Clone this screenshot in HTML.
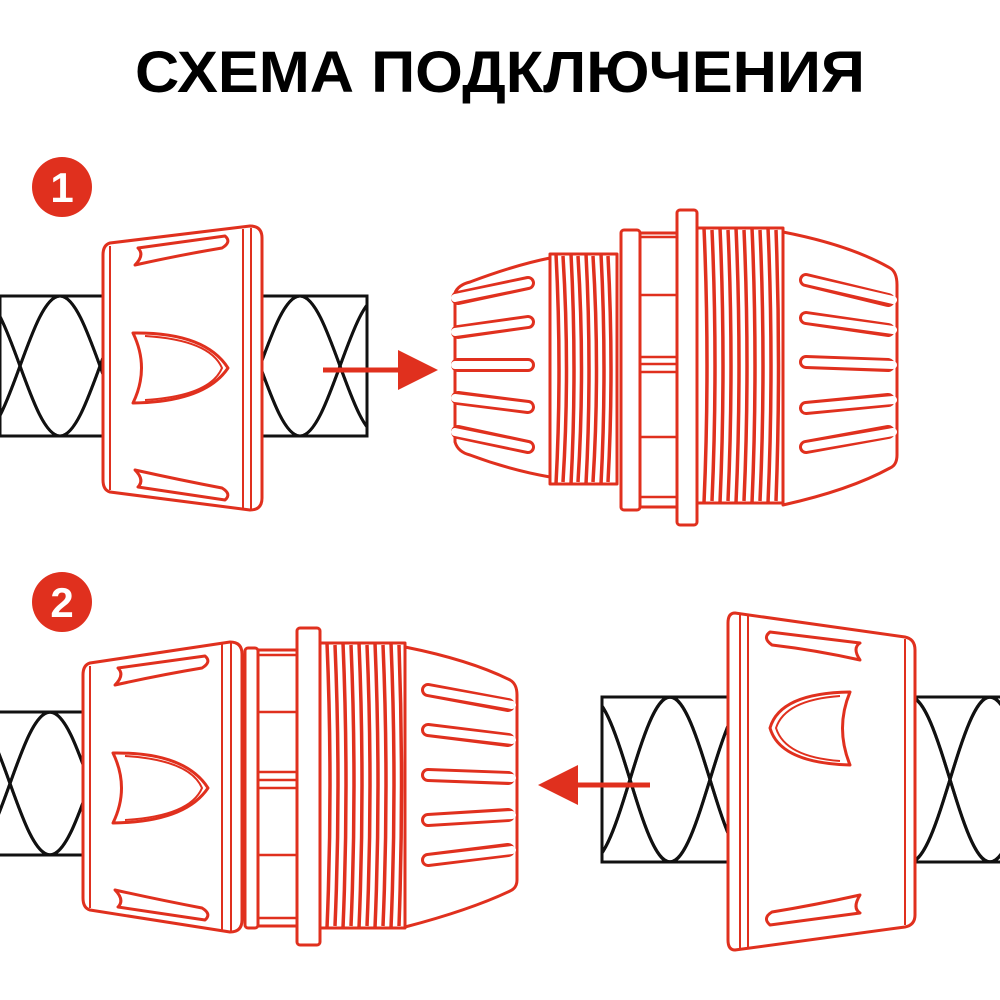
<!DOCTYPE html>
<html><head><meta charset="utf-8"><style>
html,body{margin:0;padding:0;background:#fff}
svg{display:block}
</style></head><body>
<svg width="1000" height="1000" viewBox="0 0 1000 1000" xmlns="http://www.w3.org/2000/svg">
<defs>
<path id="w" fill="none" stroke="#111" stroke-width="3" d="M-160,0 C-131,0 -109,140 -80,140 S-29,0 0,0 S51,140 80,140 S131,0 160,0 S211,140 240,140 S291,0 320,0 S371,140 400,140 S451,0 480,0 S531,140 560,140 S611,0 640,0"/>
<clipPath id="h1"><rect x="0" y="296" width="367" height="140"/></clipPath>
<clipPath id="h2"><rect x="0" y="712" width="85" height="143"/></clipPath>
<clipPath id="h3"><rect x="602" y="697" width="398" height="165"/></clipPath>
</defs>

<text x="500" y="92" text-anchor="middle" font-family="Liberation Sans, sans-serif" font-weight="bold" font-size="58" textLength="730" lengthAdjust="spacingAndGlyphs" fill="#000">СХЕМА ПОДКЛЮЧЕНИЯ</text>

<circle cx="62" cy="187" r="30" fill="#e0301e"/>
<text x="62" y="202" text-anchor="middle" font-family="Liberation Sans, sans-serif" font-weight="bold" font-size="42" fill="#fff">1</text>
<circle cx="62" cy="602" r="30" fill="#e0301e"/>
<text x="62" y="617" text-anchor="middle" font-family="Liberation Sans, sans-serif" font-weight="bold" font-size="42" fill="#fff">2</text>

<!-- hose 1 -->
<g clip-path="url(#h1)">
<use href="#w" transform="translate(-20,296)"/>
<use href="#w" transform="translate(-20,436) scale(1,-1)"/>
<use href="#w" transform="translate(60,296)"/>
<use href="#w" transform="translate(60,436) scale(1,-1)"/>
</g>
<rect x="0" y="296" width="367" height="140" fill="none" stroke="#111" stroke-width="3"/>

<!-- hose 2 left -->
<g clip-path="url(#h2)">
<use href="#w" transform="translate(-30,712) scale(1,1.02)"/>
<use href="#w" transform="translate(-30,855) scale(1,-1.02)"/>
<use href="#w" transform="translate(50,712) scale(1,1.02)"/>
<use href="#w" transform="translate(50,855) scale(1,-1.02)"/>
</g>
<rect x="-2" y="712" width="87" height="143" fill="none" stroke="#111" stroke-width="3"/>

<!-- hose 2 right -->
<g clip-path="url(#h3)">
<use href="#w" transform="translate(590,697) scale(1,1.18)"/>
<use href="#w" transform="translate(590,862) scale(1,-1.18)"/>
<use href="#w" transform="translate(670,697) scale(1,1.18)"/>
<use href="#w" transform="translate(670,862) scale(1,-1.18)"/>
</g>
<rect x="602" y="697" width="400" height="165" fill="none" stroke="#111" stroke-width="3"/>

<g stroke="#e0301e" stroke-width="3" fill="#fff" stroke-linejoin="round">
<!-- nut 1 -->
<path d="M110,243 L250,226 Q262,226 262,238 L262,498 Q262,510 250,510 L110,492 Q103,490 103,480 L103,255 Q103,245 110,243 Z"/>
<path d="M110,246 L110,490 M243,229 L243,508 M251,228 L251,509" fill="none" stroke-width="2"/>
<path d="M133,333 Q205,332 228,368 Q205,402 133,403 Q150,368 133,333 Z"/>
<path d="M145,336 Q210,340 222,368 Q210,396 145,400" fill="none" stroke-width="2"/>
<path d="M135,265 Q145,255 138,248 L225,236 Q232,242 222,248 Q180,255 135,265 Z"/>
<path d="M135,470 Q145,480 138,487 L225,500 Q232,494 222,488 Q180,480 135,470 Z"/>
</g>

<!-- arrow 1 -->
<line x1="323" y1="370" x2="405" y2="370" stroke="#e0301e" stroke-width="5"/>
<polygon points="398,350 438,370 398,390" fill="#e0301e"/>

<!-- connector 1 -->
<g stroke="#e0301e" stroke-width="3" fill="#fff" stroke-linejoin="round">
<path d="M455,293 Q458,285 470,282 Q515,265 550,258 L550,477 Q510,470 470,455 Q458,452 455,442 Z"/>
<path d="M783,232 Q850,245 890,268 Q897,272 897,285 L897,455 Q897,465 890,468 Q850,490 783,505 Z"/>
<rect x="550" y="254" width="67" height="230"/>
<rect x="640" y="233" width="37" height="274"/>
<path d="M640,237 H677 M640,295 H677 M640,357 H677 M640,364 H677 M640,372 H677 M640,437 H677 M640,497 H677" fill="none" stroke-width="2.5"/>
<rect x="621" y="230" width="19" height="280" rx="3"/>
<rect x="677" y="210" width="20" height="315" rx="3"/>
<rect x="697" y="228" width="86" height="275"/>
<g fill="none" stroke-width="3.5">
<path d="M556,254 Q562,370 556,484 M563,256 Q570,370 563,482 M571,254 Q577,370 571,484 M578,256 Q585,370 578,482 M586,254 Q592,370 586,484 M593,256 Q600,370 593,482 M601,254 Q607,370 601,484 M608,256 Q614,370 608,482"/>
<path d="M704,228 Q710,365 704,503 M712,230 Q718,365 712,501 M720,228 Q726,365 720,503 M728,230 Q734,365 728,501 M736,228 Q742,365 736,503 M744,230 Q750,365 744,501 M752,228 Q758,365 752,503 M760,230 Q766,365 760,501 M768,228 Q774,365 768,503 M776,230 Q781,365 776,501"/>
</g>
</g>
<!-- ribs conn1 -->
<g stroke-linecap="round" fill="none">
<g stroke="#e0301e" stroke-width="14">
<path d="M458,298 L528,283 M458,332 L528,322 M458,365 L528,365 M458,398 L528,407 M458,432 L528,447"/>
<path d="M806,280 L888,300 M806,318 L888,330 M806,362 L888,365 M806,408 L888,400 M806,447 L888,432"/>
</g>
<g stroke="#fff" stroke-width="8">
<path d="M455,298 L528,283 M455,332 L528,322 M455,365 L528,365 M455,398 L528,407 M455,432 L528,447"/>
<path d="M806,280 L893,300 M806,318 L893,330 M806,362 L893,365 M806,408 L893,400 M806,447 L893,432"/>
</g>
</g>

<!-- connector 2 -->
<g stroke="#e0301e" stroke-width="3" fill="#fff" stroke-linejoin="round">
<path d="M405,647 Q470,660 510,680 Q517,684 517,695 L517,880 Q517,888 510,891 Q470,910 405,927 Z"/>
<rect x="320" y="643" width="85" height="285"/>
<rect x="258" y="650" width="39" height="276"/>
<path d="M258,655 H297 M258,712 H297 M258,772 H297 M258,780 H297 M258,788 H297 M258,855 H297 M258,918 H297" fill="none" stroke-width="2.5"/>
<rect x="245" y="648" width="13" height="280" rx="3"/>
<rect x="297" y="628" width="23" height="317" rx="3"/>
<path d="M90,663 L230,642 Q242,642 242,654 L242,920 Q242,932 230,932 L90,910 Q83,908 83,898 L83,675 Q83,665 90,663 Z"/>
<path d="M90,666 L90,908 M222,644 L222,930 M231,643 L231,931" fill="none" stroke-width="2"/>
<path d="M113,753 Q185,752 208,788 Q185,822 113,823 Q130,788 113,753 Z"/>
<path d="M125,756 Q190,760 202,788 Q190,816 125,820" fill="none" stroke-width="2"/>
<path d="M115,685 Q125,675 118,668 L205,656 Q212,662 202,668 Q160,675 115,685 Z"/>
<path d="M115,890 Q125,900 118,907 L205,920 Q212,914 202,908 Q160,900 115,890 Z"/>
<g fill="none" stroke-width="3.5">
<path d="M327,643 Q333,785 327,928 M335,645 Q341,785 335,926 M343,643 Q349,785 343,928 M351,645 Q357,785 351,926 M359,643 Q365,785 359,928 M367,645 Q373,785 367,926 M375,643 Q381,785 375,928 M383,645 Q389,785 383,926 M391,643 Q397,785 391,928 M399,645 Q404,785 399,926"/>
</g>
<!-- nut 2 right -->
<path d="M735,613 L905,637 Q915,639 915,650 L915,915 Q915,925 905,927 L735,950 Q728,950 728,940 L728,623 Q728,613 735,613 Z"/>
<path d="M740,615 L740,948 M748,616 L748,947 M905,639 L905,925" fill="none" stroke-width="2"/>
<path d="M850,692 Q780,693 770,728 Q780,763 850,765 Q835,728 850,692 Z"/>
<path d="M840,696 Q785,700 776,728 Q785,757 840,761" fill="none" stroke-width="2"/>
<path d="M860,660 Q852,648 860,643 L770,632 Q762,638 772,645 Q815,650 860,660 Z"/>
<path d="M860,895 Q852,908 860,913 L770,925 Q762,918 772,912 Q815,905 860,895 Z"/>
</g>
<g stroke-linecap="round" fill="none">
<g stroke="#e0301e" stroke-width="14"><path d="M428,690 L508,705 M428,730 L508,740 M428,775 L508,778 M428,820 L508,815 M428,860 L508,850"/></g>
<g stroke="#fff" stroke-width="8"><path d="M428,690 L512,705 M428,730 L512,740 M428,775 L512,778 M428,820 L512,815 M428,860 L512,850"/></g>
</g>

<!-- arrow 2 -->
<line x1="650" y1="785" x2="570" y2="785" stroke="#e0301e" stroke-width="5"/>
<polygon points="578,765 538,785 578,805" fill="#e0301e"/>
</svg>
</body></html>
